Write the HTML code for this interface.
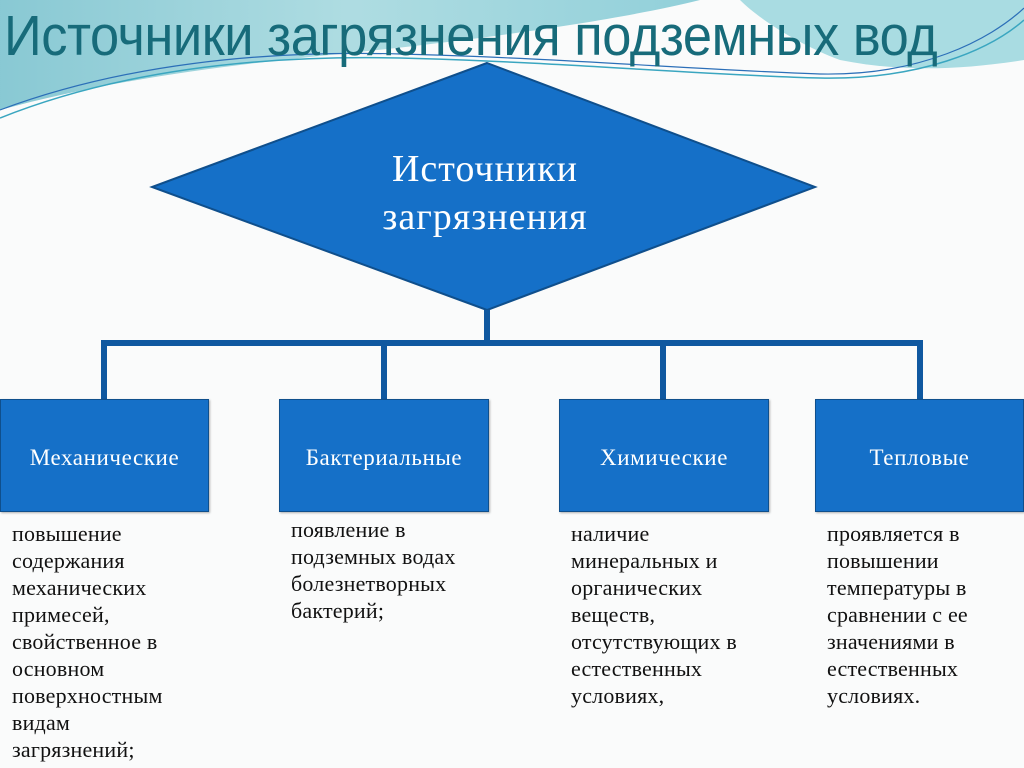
<!DOCTYPE html>
<html><head><meta charset="utf-8"><style>
html,body{margin:0;padding:0}
body{width:1024px;height:768px;position:relative;overflow:hidden;background:#fafbfb;font-family:"Liberation Serif",serif}
.t{position:absolute;left:4px;top:3px;font-family:"Liberation Sans",sans-serif;font-size:57px;color:#176b7a;white-space:nowrap;transform:scaleX(0.92);transform-origin:0 0;letter-spacing:-0.5px}
.box{position:absolute;top:399px;height:113px;background:#1570c8;border:1px solid #0f4f8c;box-sizing:border-box;color:#fff;font-size:23px;letter-spacing:0.6px;display:flex;align-items:center;justify-content:center;padding-top:4px;box-shadow:1px 1px 2px rgba(0,0,0,.3)}
.d{position:absolute;font-size:22px;letter-spacing:0.2px;line-height:27px;color:#111}
</style></head><body>
<svg width="1024" height="768" style="position:absolute;left:0;top:0">
<defs><linearGradient id="g" x1="0" y1="0" x2="1" y2="0"><stop offset="0" stop-color="#7cc3cf"/><stop offset="0.5" stop-color="#a6d9df"/><stop offset="1" stop-color="#86cbd6"/></linearGradient></defs>
<path d="M0,0 H700 C620,20 480,40 330,55 C220,66 110,80 0,110 Z" fill="url(#g)" opacity="0.9"/>
<path d="M780,0 H1024 V60 C960,70 900,72 840,60 C800,45 760,20 740,0 Z" fill="#a9dce2"/>
<path d="M0,118 C120,70 260,55 400,58 C560,62 700,75 820,78 C920,80 990,50 1024,20" fill="none" stroke="#3aa6c0" stroke-width="1.5"/>
<path d="M0,110 C120,65 260,50 400,54 C560,58 700,70 820,74 C920,76 990,40 1024,8" fill="none" stroke="#2c6fb8" stroke-width="1.2"/>
<polygon points="487,63 815,187 487,310 152,187" fill="#1570c8" stroke="#0f4f8c" stroke-width="2"/>
<rect x="484" y="310" width="6" height="34" fill="#0f58a0"/>
<rect x="101" y="340" width="822" height="6" fill="#0f58a0"/>
<rect x="101" y="340" width="6" height="60" fill="#0f58a0"/>
<rect x="381" y="340" width="6" height="60" fill="#0f58a0"/>
<rect x="660" y="340" width="6" height="60" fill="#0f58a0"/>
<rect x="917" y="340" width="6" height="60" fill="#0f58a0"/>
</svg>
<div class="t">Источники загрязнения подземных вод</div>
<div style="position:absolute;left:300px;top:145px;width:370px;text-align:center;color:#fff;font-size:38px;letter-spacing:1px;line-height:48px">Источники<br>загрязнения</div>
<div class="box" style="left:0;width:209px">Механические</div>
<div class="box" style="left:279px;width:210px">Бактериальные</div>
<div class="box" style="left:559px;width:210px">Химические</div>
<div class="box" style="left:815px;width:209px">Тепловые</div>
<div class="d" style="left:12px;top:520px">повышение<br>содержания<br>механических<br>примесей,<br>свойственное в<br>основном<br>поверхностным<br>видам<br>загрязнений;</div>
<div class="d" style="left:291px;top:516px">появление в<br>подземных водах<br>болезнетворных<br>бактерий;</div>
<div class="d" style="left:571px;top:520px">наличие<br>минеральных и<br>органических<br>веществ,<br>отсутствующих в<br>естественных<br>условиях,</div>
<div class="d" style="left:827px;top:520px">проявляется в<br>повышении<br>температуры в<br>сравнении с ее<br>значениями в<br>естественных<br>условиях.</div>
</body></html>
